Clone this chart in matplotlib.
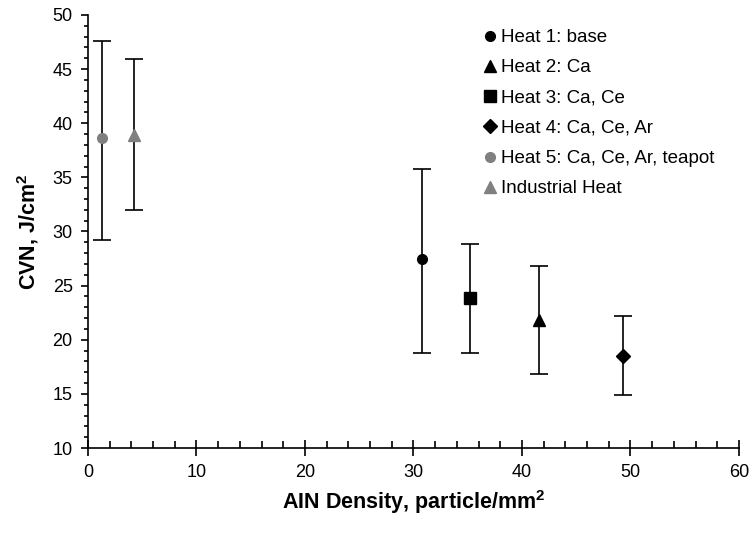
import matplotlib
matplotlib.use('Agg')
import matplotlib.pyplot as plt
from matplotlib.ticker import MultipleLocator

plt.rcParams['font.family'] = 'Liberation Sans'
plt.rcParams['mathtext.fontset'] = 'custom'
plt.rcParams['mathtext.rm'] = 'Liberation Sans'
plt.rcParams['mathtext.bf'] = 'Liberation Sans:bold'

labels = ['Heat 1: base', 'Heat 2: Ca', 'Heat 3: Ca, Ce', 'Heat 4: Ca, Ce, Ar',
          'Heat 5: Ca, Ce, Ar, teapot', 'Industrial Heat']
density = [30.8, 41.6, 35.2, 49.35, 1.3, 4.2]
cvn = [27.5, 21.8, 23.9, 18.5, 38.6, 38.9]
err_low = [8.7, 5.0, 5.1, 3.6, 9.4, 6.9]
err_high = [8.3, 5.0, 4.9, 3.7, 9.0, 7.0]
markers = ['o', '^', 's', 'D', 'o', '^']
colors = ['black', 'black', 'black', 'black', '#808080', '#808080']
sizes = [7, 9, 8, 7, 7, 9]

fig = plt.figure(figsize=(7.5, 5.35), dpi=100)
ax = fig.add_axes([0.1173, 0.1626, 0.868, 0.8094])

for i in range(len(labels)):
    ax.errorbar(density[i], cvn[i], yerr=[[err_low[i]], [err_high[i]]],
                fmt='none', ecolor='black', elinewidth=1.2, capsize=6.5, capthick=1.2, zorder=2)
    ax.plot(density[i], cvn[i], linestyle='none', marker=markers[i], color=colors[i],
            markersize=sizes[i], label=labels[i], zorder=3)

ax.set_xlim(0, 60)
ax.set_ylim(10, 50)
ax.xaxis.set_major_locator(MultipleLocator(10))
ax.xaxis.set_minor_locator(MultipleLocator(2))
ax.yaxis.set_major_locator(MultipleLocator(5))
ax.yaxis.set_minor_locator(MultipleLocator(1))
ax.spines['top'].set_visible(False)
ax.spines['right'].set_visible(False)
ax.spines['left'].set_linewidth(1.2)
ax.spines['bottom'].set_linewidth(1.2)
ax.tick_params(axis='y', which='major', direction='out', length=5, width=1.2, labelsize=13, pad=6)
ax.tick_params(axis='y', which='minor', direction='out', length=3, width=1.2)
ax.tick_params(axis='x', which='major', direction='inout', length=11, width=1.2, labelsize=13, pad=6)
ax.tick_params(axis='x', which='minor', direction='in', length=5, width=1.2)

ax.set_xlabel(r'AIN Density, particle/mm$^\mathbf{2}$', fontsize=15.5, fontweight='bold', labelpad=5)
ax.set_ylabel(r'CVN, J/cm$^\mathbf{2}$', fontsize=15.5, fontweight='bold', labelpad=8)

ax.legend(loc='upper left', bbox_to_anchor=(0.592, 0.985), frameon=False, fontsize=13.5,
          handletextpad=0.1, handlelength=1.0, labelspacing=0.7, borderaxespad=0)

plt.savefig('out.png', dpi=100)
